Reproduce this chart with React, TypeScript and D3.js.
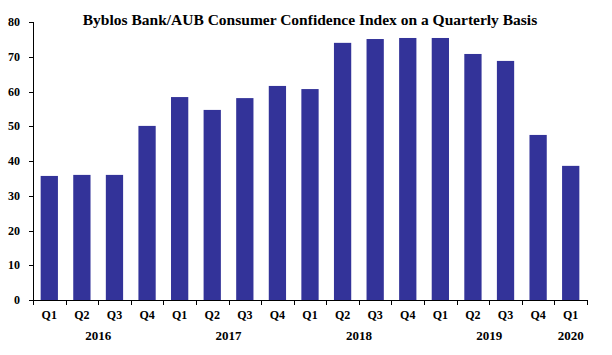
import React from "react";
import * as d3 from "d3";

const quarters = ["Q1","Q2","Q3","Q4","Q1","Q2","Q3","Q4","Q1","Q2","Q3","Q4","Q1","Q2","Q3","Q4","Q1"];
const values = [35.7,36.0,36.0,50.1,58.4,54.7,58.1,61.6,60.7,74.0,75.1,75.4,75.4,70.8,68.8,47.5,38.6];
const years = ["2016","2017","2018","2019","2020"];
const yearStart = [0,4,8,12,16];
const yearCount = [4,4,4,4,1];
const yTicks = [0,10,20,30,40,50,60,70,80];

const W = 612, H = 355;
const left = 33, right = 587, top = 22, bottom = 300;
const font = "Liberation Serif";

export default function App() {
  const idx = quarters.map((_, i) => String(i));
  const x = d3.scaleBand<string>().domain(idx).range([left, right]).paddingInner(0.47).paddingOuter(0.235);
  const xb = d3.scaleLinear().domain([0, quarters.length]).range([left, right]);
  const y = d3.scaleLinear().domain([0, 80]).range([bottom, top]);
  const center = (i: number) => (x(String(i)) as number) + x.bandwidth() / 2;
  const boundaries = d3.range(quarters.length + 1);
  return (
    <svg width={W} height={H} style={{ position: "absolute", left: 0, top: 0, background: "#fff", fontFamily: font }}>
      <text x={310} y={25} textAnchor="middle" style={{ fontFamily: font, fontWeight: 700, fontSize: 15.5 }}>
        Byblos Bank/AUB Consumer Confidence Index on a Quarterly Basis
      </text>
      {values.map((v, i) => (
        <rect key={i} x={x(String(i))} y={y(v)} width={x.bandwidth()} height={y(0) - y(v)} fill="#333399" />
      ))}
      <line x1={left + 0.5} x2={left + 0.5} y1={top} y2={bottom} stroke="#000" strokeWidth={1} />
      {yTicks.map(t => (
        <g key={t}>
          <line x1={left - 4} x2={left} y1={Math.round(y(t)) + 0.5} y2={Math.round(y(t)) + 0.5} stroke="#000" />
          <text x={20} y={y(t) + 4} textAnchor="end" style={{ fontFamily: font, fontWeight: 700, fontSize: 12 }}>{t}</text>
        </g>
      ))}
      <line x1={left} x2={right} y1={bottom + 0.5} y2={bottom + 0.5} stroke="#000" />
      {boundaries.map(b => (
        <line key={b} x1={Math.round(xb(b)) + 0.5} x2={Math.round(xb(b)) + 0.5} y1={bottom} y2={bottom + 5} stroke="#000" />
      ))}
      {quarters.map((q, i) => (
        <text key={i} x={center(i)} y={319} textAnchor="middle" style={{ fontFamily: font, fontWeight: 700, fontSize: 12 }}>{q}</text>
      ))}
      {years.map((yr, k) => {
        const cx = (center(yearStart[k]) + center(yearStart[k] + yearCount[k] - 1)) / 2;
        return (
          <text key={yr} x={cx} y={340} textAnchor="middle" style={{ fontFamily: font, fontWeight: 700, fontSize: 13 }}>{yr}</text>
        );
      })}
    </svg>
  );
}
